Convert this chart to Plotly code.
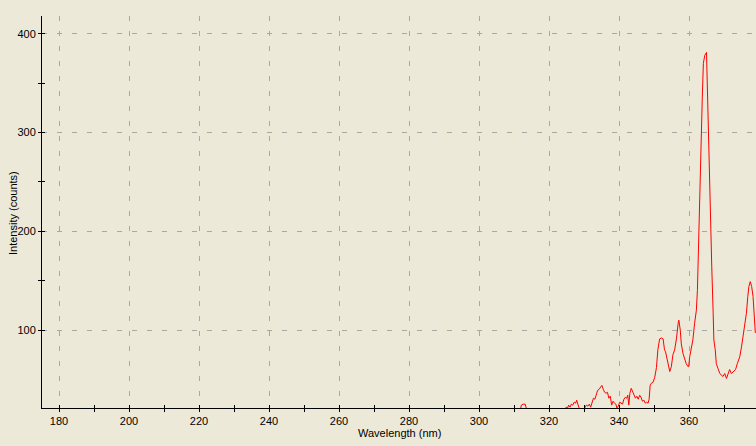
import plotly.graph_objects as go

wavelength_nm = [
    305.0, 308.0, 311.0, 311.8, 312.1, 312.6, 313.2, 313.5, 314.0, 317.0, 320.0, 323.0,
    324.5, 324.9, 325.3, 325.6, 326.0, 326.4, 326.8, 327.2, 327.6, 327.9, 328.2, 328.5,
    328.8, 329.3, 329.8, 330.3, 330.7, 331.1, 331.5, 331.9, 332.3, 332.7, 333.1, 333.5,
    333.9, 334.3, 334.7, 335.1, 335.5, 335.9, 336.3, 336.7, 337.1, 337.5, 337.9, 338.3,
    338.7, 339.1, 339.4, 339.8, 340.2, 340.6, 341.0, 341.4, 341.8, 342.2, 342.5, 342.8,
    343.1, 343.5, 343.9, 344.3, 344.7, 345.1, 345.5, 345.9, 346.3, 346.7, 347.1, 347.5,
    347.9, 348.3, 348.6, 348.9, 349.2, 349.7, 350.2, 350.7, 351.1, 351.6, 352.1, 352.6,
    353.0, 353.3, 353.7, 354.1, 354.5, 354.95, 355.4, 355.9, 356.4, 356.9, 357.1, 357.5,
    357.8, 358.3, 358.8, 359.2, 359.7, 359.9, 360.2, 360.7, 361.1, 361.6, 362.1, 362.4,
    362.6, 362.9, 363.0, 363.2, 363.5, 363.8, 364.1, 364.5, 365.0, 365.2, 365.5, 365.9,
    366.2, 366.5, 366.9, 367.1, 367.5, 367.8, 368.3, 368.8, 369.7, 370.2, 370.7, 371.1,
    371.6, 372.1, 372.6, 373.3, 373.8, 374.5, 375.0, 375.4, 375.9, 376.4, 376.8, 377.1,
    377.5, 377.9, 378.3, 378.7, 378.95,
]
intensity_counts = [
    15, 16, 17, 19, 24, 25, 25, 21, 17, 16, 17, 18,
    19, 22, 21, 24, 22, 25, 24, 27, 26, 29, 24, 22,
    20, 19, 18, 22, 24, 23, 25, 22, 26, 31, 30, 36,
    39, 40, 42, 44, 40, 37, 36, 37, 31, 33, 24, 28,
    26, 25, 21, 23, 27, 26, 25, 30, 32, 31, 34, 24,
    36, 41, 37, 35, 31, 33, 30, 34, 32, 28, 29, 26,
    27, 26, 30, 44, 46, 47, 52, 62, 80, 91, 92, 91,
    80, 78, 70, 66, 58, 63, 75, 80, 91, 107, 110, 100,
    86, 76, 70, 66, 63, 63, 73, 83, 90, 107, 120, 140,
    171, 201, 225, 248, 286, 336, 370, 378, 381, 351, 294, 245,
    208, 164, 117, 90, 80, 66, 61, 56, 53, 56, 51, 56,
    60, 56, 58, 60, 66, 73, 83, 93, 103, 117, 134, 144,
    149, 144, 134, 108, 97,
]

x_range = [175.14, 379.14]
y_range = [21.1, 417.9]
x_tick_vals = [180, 200, 220, 240, 260, 280, 300, 320, 340, 360]
x_tick_text = ["180", "200", "220", "240", "260", "280", "300", "320", "340", "360"]
x_minor_vals = [190, 210, 230, 250, 270, 290, 310, 330, 350, 370]
y_tick_vals = [100, 200, 300, 400]
y_tick_text = ["100", "200", "300", "400"]
y_minor_vals = [150, 250, 350]
x_title = "Wavelength (nm)"
y_title = "Intensity (counts)"

BG = "#ECE9D8"
GRID = "#A8A8A8"
FONT = "Liberation Sans"
W, H = 756, 446
ML, MR, MT, MB = 42, 0, 16, 38
PW, PH = W - ML - MR, H - MT - MB

fig = go.Figure()
fig.add_trace(go.Scatter(
    x=wavelength_nm, y=intensity_counts, mode="lines",
    line=dict(color="#FF0000", width=1), showlegend=False, hoverinfo="skip",
))
fig.add_trace(go.Scatter(
    x=[x_range[0]], y=[y_range[0]], xaxis="x2", yaxis="y2", mode="markers",
    marker=dict(opacity=0), showlegend=False, hoverinfo="skip",
))

common_font = dict(family=FONT, size=11, color="#000000")

fig.update_layout(
    width=W, height=H,
    margin=dict(l=ML, r=MR, t=MT, b=MB),
    paper_bgcolor=BG, plot_bgcolor=BG,
    font=common_font,
    xaxis=dict(
        range=x_range, tickmode="array", tickvals=x_tick_vals, ticktext=x_tick_text,
        ticks="outside", ticklen=3, tickwidth=1, tickcolor="#000000",
        minor=dict(tickmode="array", tickvals=x_minor_vals, ticks="outside", ticklen=3,
                   tickwidth=1, tickcolor="#000000", showgrid=False),
        showline=True, linecolor="#000000", linewidth=1,
        showgrid=True, gridcolor=GRID, gridwidth=1, griddash="5px,10px",
        zeroline=False, tickfont=common_font, automargin=False,
    ),
    yaxis=dict(
        range=y_range, tickmode="array", tickvals=y_tick_vals, ticktext=y_tick_text,
        ticks="outside", ticklen=3, tickwidth=1, tickcolor="#000000",
        minor=dict(tickmode="array", tickvals=y_minor_vals, ticks="outside", ticklen=3,
                   tickwidth=1, tickcolor="#000000", showgrid=False),
        showline=True, linecolor="#000000", linewidth=1,
        showgrid=True, gridcolor=GRID, gridwidth=1, griddash="5px,10px",
        zeroline=False, tickfont=common_font, automargin=False,
    ),
    xaxis2=dict(
        range=x_range, overlaying="x", tickmode="array",
        tickvals=x_tick_vals + x_minor_vals, ticks="inside", ticklen=3,
        tickwidth=1, tickcolor="#000000", showticklabels=False, showgrid=False,
        zeroline=False, showline=False, side="bottom", anchor="y2",
    ),
    yaxis2=dict(
        range=y_range, overlaying="y", tickmode="array",
        tickvals=y_tick_vals + y_minor_vals, ticks="inside", ticklen=3,
        tickwidth=1, tickcolor="#000000", showticklabels=False, showgrid=False,
        zeroline=False, showline=False, side="left", anchor="x2",
    ),
    annotations=[
        dict(text=x_title, xref="paper", yref="paper",
             x=0.5, y=-(433 - (MT + PH)) / PH, xanchor="center", yanchor="middle",
             showarrow=False, font=common_font),
        dict(text=y_title, xref="paper", yref="paper", textangle=-90,
             x=(13 - ML) / PW, y=1 - (213 - MT) / PH, xanchor="center", yanchor="middle",
             showarrow=False, font=common_font),
    ],
)

fig.write_html(
    "out.html",
    config={"displayModeBar": False},
    post_script="document.body.style.margin='0';document.body.style.padding='0';"
                "document.body.style.overflow='hidden';document.body.style.background='#ECE9D8';",
)
